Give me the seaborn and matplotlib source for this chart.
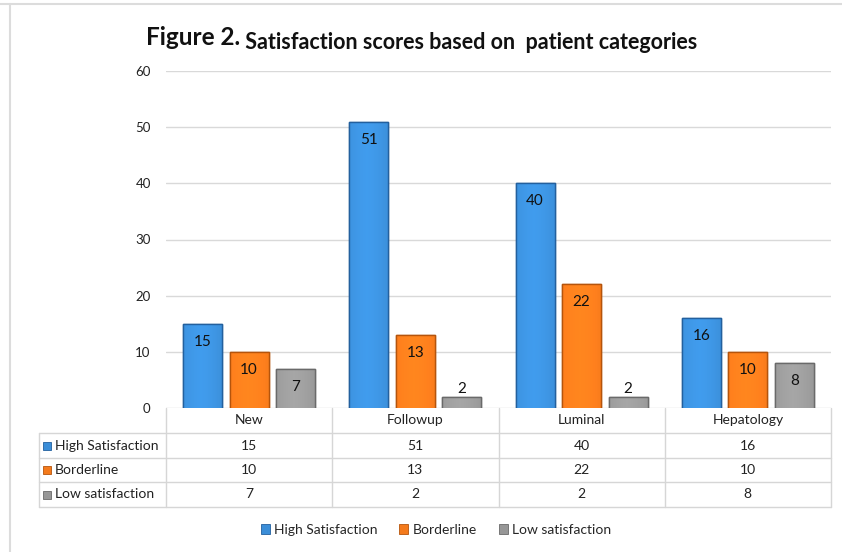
import matplotlib

matplotlib.use("Agg")
import matplotlib.pyplot as plt
import matplotlib.transforms as mtransforms
from matplotlib.colors import to_rgb
from matplotlib.lines import Line2D
from matplotlib.patches import Patch, Rectangle
import numpy as np
import pandas as pd
import seaborn as sns

categories = ["New", "Followup", "Luminal", "Hepatology"]
series = ["High Satisfaction", "Borderline", "Low satisfaction"]
high_satisfaction = [15, 51, 40, 16]
borderline = [10, 13, 22, 10]
low_satisfaction = [7, 2, 2, 8]
y_ticks = [0, 10, 20, 30, 40, 50, 60]

colors = ["#3b8ed8", "#f47a1c", "#979797"]
edges = ["#23609e", "#b5540c", "#6a6a6a"]

values = [high_satisfaction, borderline, low_satisfaction]
long = pd.DataFrame(
    [{"category": c, "series": s, "value": v[i]}
     for s, v in zip(series, values) for i, c in enumerate(categories)]
)

sns.set_theme(style="white")
plt.rcParams["font.family"] = ["Lato", "DejaVu Sans"]

W, H = 842, 552
fig = plt.figure(figsize=(W / 100, H / 100), dpi=100)
fx = lambda px: px / W
fy = lambda py: 1 - py / H

ax = fig.add_axes([fx(166), fy(408), fx(831) - fx(166), fy(71) - fy(408)])
sns.barplot(data=long, x="category", y="value", hue="series", palette=colors,
            width=0.84, gap=0.16, ax=ax, legend=False, saturation=1)


def shade(col):
    # horizontal bevel: darker at the sides, lighter towards the middle
    base = np.array(to_rgb(col))
    t = np.linspace(0, 1, 64)
    f = 1 - 0.35 * np.abs(t - 0.45) ** 1.5 * 2.2
    light = np.clip(base * (0.82 + 0.28 * f)[:, None], 0, 1)
    return light[None, :, :]


for cont, col, ec in zip(ax.containers, colors, edges):
    for bar in cont:
        bar.set_edgecolor(ec)
        bar.set_linewidth(1.0)
        x0, w, h = bar.get_x(), bar.get_width(), bar.get_height()
        z = bar.get_zorder()
        im = ax.imshow(shade(col), extent=(x0, x0 + w, 0, h), aspect="auto",
                       interpolation="bilinear", zorder=z + 0.1)
        im.set_clip_path(bar)
        ax.plot([x0, x0, x0 + w, x0 + w], [0, h, h, 0], color=ec, lw=1.0, zorder=z + 0.2)
        xc = x0 + w / 2
        if h > 4:
            ax.annotate(f"{h:g}", (xc, h), xytext=(0, -13), textcoords="offset points",
                        ha="center", va="center", fontsize=11, color="#111111", zorder=5)
        else:
            ax.annotate(f"{h:g}", (xc, h), xytext=(0, 0.5), textcoords="offset points",
                        ha="center", va="bottom", fontsize=11, color="#111111", zorder=5)

ax.set_ylim(0, 60)
ax.set_xlim(-0.5, 3.5)
ax.set_yticks(y_ticks)
ax.set_xticks([])
ax.set_xlabel("")
ax.set_ylabel("")
ax.tick_params(axis="y", length=0, pad=11, labelsize=9.5, labelcolor="#222222")
ax.grid(axis="y", color="#d9d9d9", lw=1)
ax.set_axisbelow(True)
for sp in ax.spines.values():
    sp.set_visible(False)

# data table under the plot
line_c = "#d6d6d6"
row_edges = [408, 433, 458, 482, 507]
bt = mtransforms.blended_transform_factory(ax.transData, fig.transFigure)
for b in [-0.5, 0.5, 1.5, 2.5, 3.5]:
    fig.add_artist(Line2D([b, b], [fy(408), fy(507)], transform=bt, color=line_c, lw=1))
for r in row_edges[1:]:
    fig.add_artist(Line2D([fx(39), fx(831)], [fy(r), fy(r)], transform=fig.transFigure,
                          color=line_c, lw=1))
fig.add_artist(Line2D([fx(39), fx(39)], [fy(433), fy(507)], transform=fig.transFigure,
                      color=line_c, lw=1))

for i, c in enumerate(categories):
    fig.text(i, fy((408 + 433) / 2), c, transform=bt, ha="center", va="center",
             fontsize=10, color="#222222")
for k, (s, v) in enumerate(zip(series, values)):
    yc = fy((row_edges[k + 1] + row_edges[k + 2]) / 2)
    fig.add_artist(Rectangle((fx(43), yc - 0.5 * 8 / H), 8 / W, 8 / H, transform=fig.transFigure,
                             facecolor=colors[k], edgecolor=edges[k], lw=0.6))
    fig.text(fx(55), yc, s, ha="left", va="center", fontsize=10, color="#222222")
    for i, val in enumerate(v):
        fig.text(i, yc, f"{val}", transform=bt, ha="center", va="center",
                 fontsize=10, color="#222222")

# legend
handles = [Patch(facecolor=c, edgecolor=e, lw=0.6) for c, e in zip(colors, edges)]
fig.legend(handles, series, loc="center", bbox_to_anchor=(fx(436), fy(530)), ncol=3,
           frameon=False, fontsize=10, handlelength=0.65, handleheight=0.65,
           handletextpad=0.3, columnspacing=1.6)

# title in two sizes
t1 = fig.text(fx(146), fy(45), "Figure 2.", fontsize=17.5, fontweight="bold",
              ha="left", va="baseline", color="#111111")
ax.annotate(" Satisfaction scores based on  patient categories", xy=(1, 0), xycoords=t1,
            fontsize=15.5, fontweight="bold", ha="left", va="baseline", color="#111111",
            annotation_clip=False)

# outer frame
fig.add_artist(Line2D([0, 1], [fy(4), fy(4)], transform=fig.transFigure, color="#dcdcdc", lw=1.5))
fig.add_artist(Line2D([fx(10), fx(10)], [fy(4), 0], transform=fig.transFigure, color="#dcdcdc", lw=1.5))

fig.savefig("out.png", dpi=100)
